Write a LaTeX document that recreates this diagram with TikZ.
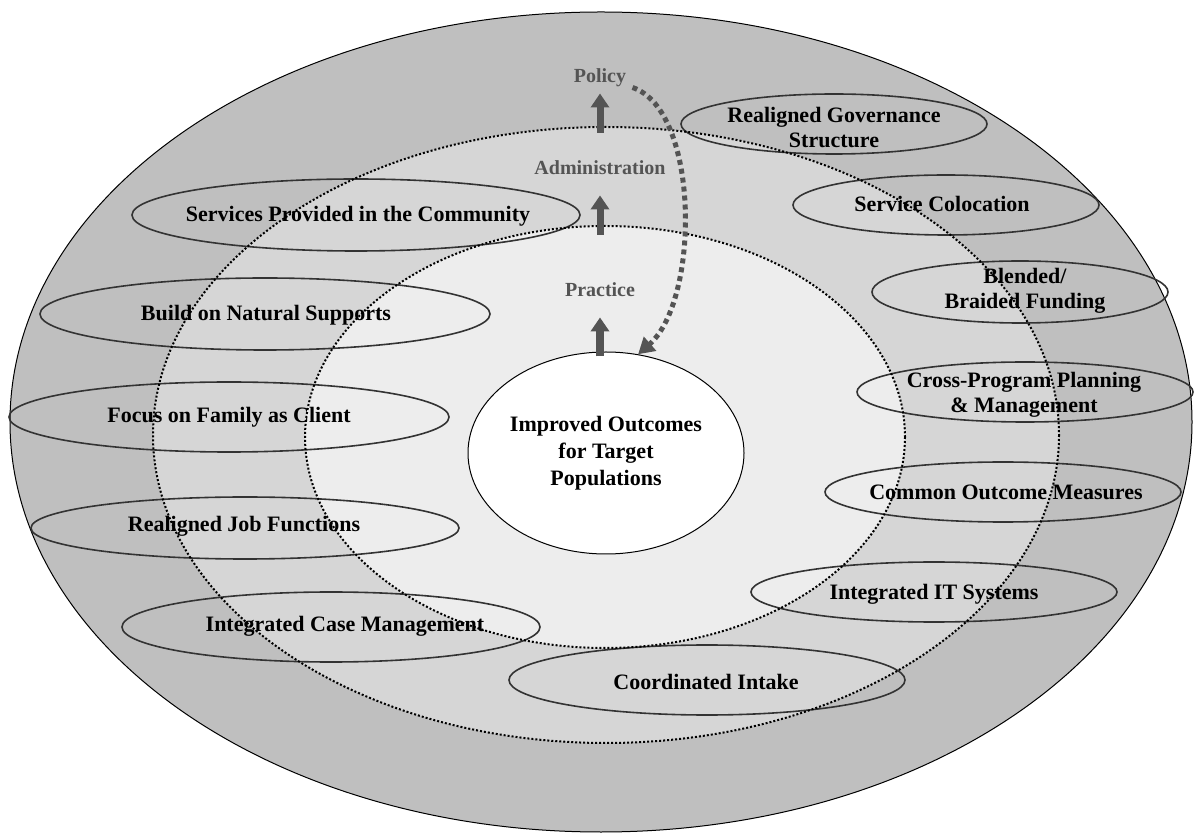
\documentclass[tikz,border=0pt]{standalone}
\usepackage{fontspec}
\setmainfont{Liberation Serif}
\usetikzlibrary{shapes.geometric,arrows.meta}

\definecolor{outerband}{gray}{0.75}
\definecolor{midband}{gray}{0.84}
\definecolor{innerband}{gray}{0.93}
\definecolor{levelgray}{gray}{0.33}

\tikzset{
  pod/.style={draw=black!80, line width=0.8pt},
  tag/.style={font=\fontsize{11}{12.5}\selectfont\bfseries, align=center, inner sep=0pt},
  level/.style={font=\fontsize{10}{12}\selectfont\bfseries, text=levelgray, inner sep=0pt},
  ring/.style={densely dotted, line width=1pt},
  lift/.style={levelgray, line width=3.5pt, -{Triangle[length=7pt,width=9pt]}},
  loopback/.style={levelgray, line width=2.5pt, dash pattern=on 2.5pt off 2pt, -{Triangle[length=8pt,width=9pt]}}
}

\begin{document}
\begin{tikzpicture}[x=0.5pt, y=-0.5pt]
    \useasboundingbox (0,0) rectangle (1194,833);

    \draw[fill=outerband, line width=0.5pt] (601,422) ellipse (591 and 410);
    \fill[midband] (606,435) ellipse (453 and 308);
    \fill[innerband] (605,437) ellipse (300 and 211);

    % left side
    \node[tag] (community) at (358,216) {Services Provided in the Community};
    \draw[pod] (356,215) ellipse (224 and 36);
    \node[tag] (natural) at (266,315) {Build on Natural Supports};
    \draw[pod] (265,314) ellipse (225 and 36);
    \node[tag] (family) at (229,417) {Focus on Family as Client};
    \draw[pod] (229,417) ellipse (220 and 35);
    \node[tag] (jobfunc) at (244,526) {Realigned Job Functions};
    \draw[pod] (245,528) ellipse (214 and 31);
    \node[tag] (casemgmt) at (345,626) {Integrated Case Management};
    \draw[pod] (331,627) ellipse (209 and 35);

    % right side
    \node[tag] (governance) at (834,128) {Realigned Governance\\Structure};
    \draw[pod] (834,124) ellipse (153 and 30);
    \node[tag] (colocation) at (942,204) {Service Colocation};
    \draw[pod] (946,205) ellipse (153 and 30);
    \node[tag] (blended) at (1025,291) {Blended/\\Braided Funding};
    \draw[pod] (1020,292) ellipse (148 and 31);
    \node[tag] (crossprog) at (1024,395) {Cross-Program Planning\\\& Management};
    \draw[pod] (1025,392) ellipse (168 and 30);
    \node[tag] (measures) at (1006,492) {Common Outcome Measures};
    \draw[pod] (1003,492) ellipse (178 and 30);
    \node[tag] (itsys) at (934,594) {Integrated IT Systems};
    \draw[pod] (934,592) ellipse (183 and 30);
    \node[tag] (intake) at (706,682) {Coordinated Intake};
    \draw[pod] (707,680) ellipse (198 and 35);

    \draw[ring] (606,435) ellipse (453 and 308);
    \draw[ring] (605,437) ellipse (300 and 211);

    \node[draw, fill=white, ellipse, line width=0.5pt, inner sep=0pt,
          minimum width=138pt, minimum height=101pt,
          font=\fontsize{11}{13.5}\selectfont\bfseries, align=center]
          (outcomes) at (606,453) {Improved Outcomes\\for Target\\Populations};

    \node[level] (policy) at (600,78) {Policy};
    \node[level] (admin) at (600,168) {Administration};
    \node[level] (practice) at (600,290) {Practice};

    \draw[lift, line width=4pt, shorten <=-2.5pt, shorten >=10pt] (practice.south |- outcomes.north) -- (practice.south);
    \draw[lift, shorten <=24pt, shorten >=10pt] (practice.north) -- (admin.south);
    \draw[lift, shorten <=14pt, shorten >=3pt] (admin.north) -- (policy.south);

    \draw[loopback] ([xshift=3pt]policy.south east) .. controls (700,110) and (700,300) .. (outcomes.72);
\end{tikzpicture}
\end{document}
